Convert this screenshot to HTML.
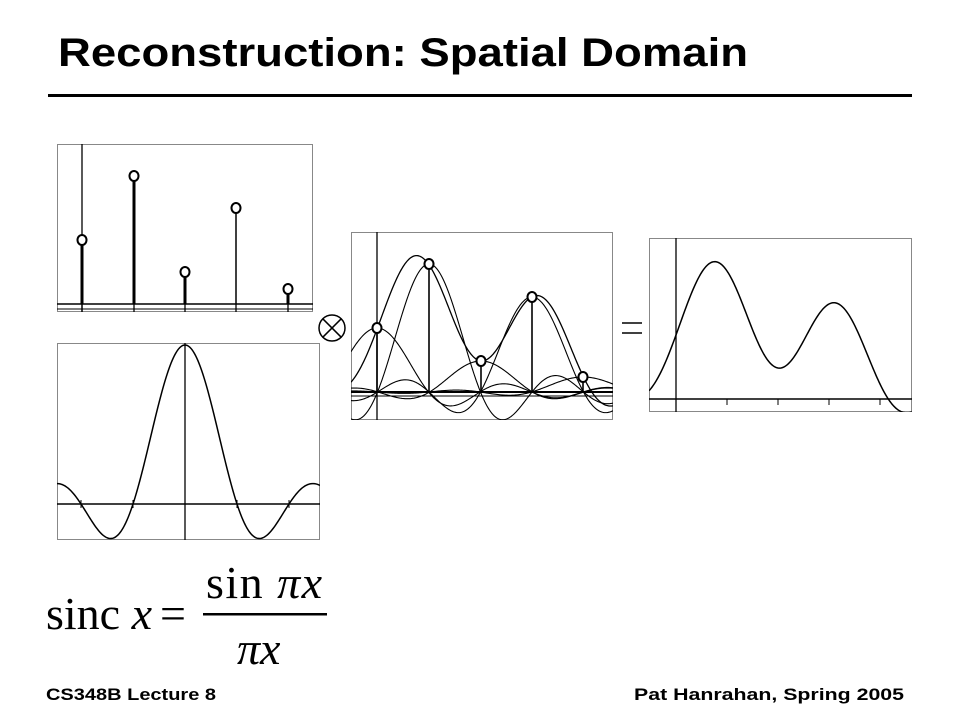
<!DOCTYPE html>
<html><head><meta charset="utf-8"><style>
body{margin:0;background:#fff}
svg{display:block}
</style></head><body>
<svg id="s" width="960" height="720" xmlns="http://www.w3.org/2000/svg">
<defs>
<clipPath id="c1"><rect x="57" y="144" width="256" height="168"/></clipPath>
<clipPath id="c2"><rect x="57" y="343" width="263" height="197"/></clipPath>
<clipPath id="c3"><rect x="351" y="232" width="262" height="188"/></clipPath>
<clipPath id="c4"><rect x="649" y="238" width="263" height="174"/></clipPath>
</defs>
<text x="58" y="66" font-family="Liberation Sans, sans-serif" font-weight="bold" font-size="40" textLength="690" lengthAdjust="spacingAndGlyphs">Reconstruction: Spatial Domain</text>
<rect x="48" y="94" width="864" height="3" fill="#000"/>
<rect x="57.5" y="144.5" width="255" height="167" fill="none" stroke="#888"/>
<rect x="57.5" y="343.5" width="262" height="196" fill="none" stroke="#888"/>
<rect x="351.5" y="232.5" width="261" height="187" fill="none" stroke="#888"/>
<rect x="649.5" y="238.5" width="262" height="173" fill="none" stroke="#888"/>
<g id="g" fill="none" stroke="#000" stroke-width="1.3"></g>
<g fill="none" stroke="#000" stroke-width="1.5">
<circle cx="332" cy="328" r="13"/>
<line x1="322.8" y1="318.8" x2="341.2" y2="337.2"/>
<line x1="341.2" y1="318.8" x2="322.8" y2="337.2"/>
<line x1="622" y1="323" x2="642" y2="323"/>
<line x1="622" y1="333" x2="642" y2="333"/>
</g>
<g font-family="Liberation Serif, serif" font-size="46">
<text x="46" y="629">sinc <tspan font-style="italic">x</tspan></text>
<text x="160" y="629">=</text>
<text x="206" y="598" textLength="116">sin <tspan font-style="italic">πx</tspan></text>
<text x="237" y="664" font-style="italic">πx</text>
</g>
<rect x="203" y="613" width="124" height="2.5" fill="#000"/>
<text x="46" y="700" font-family="Liberation Sans, sans-serif" font-weight="bold" font-size="17" textLength="170" lengthAdjust="spacingAndGlyphs">CS348B Lecture 8</text>
<text x="634" y="700" font-family="Liberation Sans, sans-serif" font-weight="bold" font-size="17" textLength="270" lengthAdjust="spacingAndGlyphs">Pat Hanrahan, Spring 2005</text>
</svg>
<script>
var g=document.getElementById('g'),NS='http://www.w3.org/2000/svg';
function el(t,a){var e=document.createElementNS(NS,t);for(var k in a)e.setAttribute(k,a[k]);g.appendChild(e);return e;}
function sinc(u){if(Math.abs(u)<1e-9)return 1;return Math.sin(Math.PI*u)/(Math.PI*u);}
function path(f,x0,x1,clip,w){var d='';for(var x=x0;x<=x1;x+=1){d+=(d?'L':'M')+x+','+f(x).toFixed(2);}el('path',{d:d,'clip-path':'url(#'+clip+')','stroke-width':w||1.3});}
function line(x1,y1,x2,y2,w){el('line',{x1:x1,y1:y1,x2:x2,y2:y2,'stroke-width':w||1.3});}
function dot(x,y){el('ellipse',{cx:x,cy:y,rx:4.5,ry:5,fill:'#fff','stroke-width':2});}
line(57,304,313,304,1.5);line(57,309,313,309,1);
line(82,144,82,312,1.3);
var xs1=[82,134,185,236,288],ys1=[240,176,272,208,289];
for(var i=0;i<5;i++){line(xs1[i],304,xs1[i],312,1.3);line(xs1[i],ys1[i],xs1[i],304,(i==3)?1.5:3);}
for(var i=0;i<5;i++)dot(xs1[i],ys1[i]);
line(57,504,320,504,1.5);line(185,343,185,540,1.3);
[133,237,289,81].forEach(function(x){line(x,500,x,508,1);});
path(function(x){return 504-159*sinc((x-185)/52);},57,320,'c2',1.5);
var v=[64,128,31,95,15];
var base3=392,xs3=[377,429,481,532,583];
line(351,base3,613,base3,2);line(351,base3+4,613,base3+4,1);
line(377,232,377,420,1.3);
for(var i=0;i<5;i++){(function(i){path(function(x){return base3-v[i]*sinc((x-xs3[i])/51.5);},351,613,'c3',1.1);})(i);}
path(function(x){var s=0;for(var i=0;i<5;i++)s+=v[i]*sinc((x-xs3[i])/51.5);return base3-s;},351,613,'c3',1.3);
for(var i=0;i<5;i++)line(xs3[i],base3-v[i],xs3[i],base3,1.6);
for(var i=0;i<5;i++)dot(xs3[i],base3-v[i]);
var base4=399;line(649,base4,912,base4,1.5);line(676,238,676,412,1.3);
[727,778,829,880].forEach(function(x){line(x,base4,x,base4+6,1);});
path(function(x){var s=0;for(var i=0;i<5;i++)s+=v[i]*sinc((x-(676+51*i))/51);return base4-s;},649,912,'c4',1.5);
</script>
</body></html>
